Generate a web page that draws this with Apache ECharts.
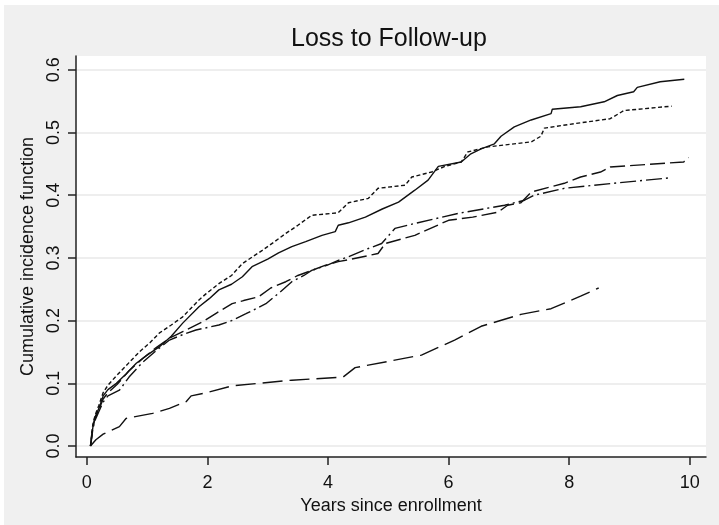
<!DOCTYPE html>
<html>
<head>
<meta charset="utf-8">
<script src="https://cdn.jsdelivr.net/npm/echarts@6/dist/echarts.min.js"></script>
<style>html,body{margin:0;padding:0;background:#fff}#c{width:719px;height:525px}</style>
</head>
<body>
<div id="c"></div>
<script>
const titleText = 'Loss to Follow-up';
const xName = 'Years since enrollment';
const yName = 'Cumulative incidence function';
const xTicks = [0, 2, 4, 6, 8, 10];
const yTicks = [0, 0.1, 0.2, 0.3, 0.4, 0.5, 0.6];

// [years, cumulative incidence]
const solidCurve = [[0.06,0],[0.08,0.015],[0.10,0.03],[0.13,0.045],[0.20,0.06],[0.27,0.08],[0.35,0.09],[0.49,0.10],[0.65,0.115],[0.82,0.132],[1.0,0.145],[1.2,0.158],[1.4,0.175],[1.59,0.196],[1.86,0.222],[2.03,0.235],[2.19,0.249],[2.4,0.258],[2.58,0.270],[2.74,0.286],[3.0,0.298],[3.18,0.308],[3.4,0.318],[3.63,0.326],[3.9,0.336],[4.12,0.342],[4.17,0.352],[4.34,0.356],[4.62,0.365],[4.9,0.378],[5.17,0.389],[5.44,0.408],[5.66,0.424],[5.83,0.446],[6.21,0.453],[6.37,0.466],[6.54,0.474],[6.76,0.482],[6.87,0.494],[7.09,0.509],[7.37,0.520],[7.70,0.530],[7.72,0.537],[8.19,0.541],[8.58,0.549],[8.80,0.559],[9.07,0.565],[9.13,0.572],[9.51,0.581],[9.91,0.585]];
const dottedCurve = [[0.06,0],[0.08,0.02],[0.10,0.035],[0.14,0.05],[0.20,0.065],[0.27,0.085],[0.35,0.097],[0.49,0.112],[0.7,0.133],[0.87,0.150],[1.05,0.165],[1.2,0.180],[1.4,0.193],[1.59,0.206],[1.86,0.233],[1.98,0.243],[2.19,0.259],[2.4,0.272],[2.58,0.291],[2.91,0.312],[3.1,0.325],[3.30,0.339],[3.5,0.352],[3.73,0.368],[4.17,0.372],[4.34,0.388],[4.67,0.395],[4.83,0.411],[5.28,0.416],[5.39,0.429],[5.72,0.437],[5.94,0.446],[6.21,0.453],[6.32,0.469],[6.65,0.477],[7.37,0.485],[7.53,0.494],[7.59,0.507],[8.08,0.514],[8.68,0.522],[8.91,0.535],[9.70,0.542]];
const dashCurve = [[0.06,0],[0.08,0.015],[0.10,0.03],[0.14,0.045],[0.20,0.058],[0.27,0.075],[0.35,0.085],[0.5,0.098],[0.7,0.12],[0.93,0.140],[1.15,0.157],[1.37,0.172],[1.6,0.183],[1.92,0.198],[2.15,0.212],[2.41,0.227],[2.6,0.232],[2.85,0.238],[3.05,0.252],[3.30,0.262],[3.5,0.272],[3.73,0.280],[3.95,0.288],[4.17,0.294],[4.34,0.297],[4.83,0.307],[4.95,0.323],[5.44,0.336],[6.0,0.360],[6.4,0.365],[6.82,0.373],[6.98,0.384],[7.20,0.388],[7.37,0.405],[7.92,0.419],[8.19,0.429],[8.52,0.437],[8.68,0.445],[9.90,0.453],[9.98,0.460]];
const dashDotCurve = [[0.06,0],[0.08,0.012],[0.10,0.028],[0.14,0.042],[0.20,0.055],[0.27,0.07],[0.35,0.08],[0.54,0.089],[0.7,0.11],[0.93,0.134],[1.15,0.152],[1.37,0.169],[1.6,0.178],[1.81,0.185],[2.19,0.193],[2.4,0.200],[2.64,0.211],[2.97,0.227],[3.2,0.245],[3.40,0.262],[3.6,0.272],[3.73,0.280],[4.0,0.289],[4.17,0.296],[4.34,0.302],[4.67,0.315],[4.89,0.323],[5.11,0.347],[5.44,0.355],[6.16,0.371],[6.93,0.384],[7.26,0.392],[7.42,0.400],[7.92,0.411],[8.74,0.419],[9.70,0.428]];
const longDashCurve = [[0.06,0],[0.15,0.01],[0.27,0.019],[0.54,0.031],[0.65,0.044],[1.09,0.052],[1.37,0.060],[1.65,0.071],[1.73,0.080],[1.98,0.085],[2.41,0.096],[3.40,0.105],[4.25,0.110],[4.45,0.125],[5.55,0.145],[6.10,0.169],[6.54,0.191],[7.20,0.210],[7.70,0.219],[8.19,0.239],[8.49,0.252]];

const FONT = '"Liberation Sans", Arial, Helvetica, sans-serif';
const INK = '#111';

function line(data, dash) {
  return {
    type: 'line', data: data, showSymbol: false, symbol: 'none',
    silent: true, animation: false, clip: true,
    lineStyle: { color: INK, width: 1.4, type: dash }
  };
}

const chart = echarts.init(document.getElementById('c'), null, { renderer: 'canvas' });
chart.setOption({
  backgroundColor: '#ffffff',
  animation: false,
  graphic: [{
    type: 'rect', z: -10, silent: true,
    shape: { x: 4, y: 5, width: 719, height: 525 },
    style: { fill: '#f0f0f0' }
  }],
  title: {
    text: titleText, left: 291, top: 27, padding: 0,
    textStyle: { fontFamily: FONT, fontSize: 25, fontWeight: 'normal', color: INK }
  },
  grid: {
    left: 76, right: 13, top: 56, bottom: 68,
    show: true, backgroundColor: '#ffffff', borderWidth: 0, containLabel: false
  },
  xAxis: {
    type: 'value', min: -0.18, max: 10.27,
    name: xName, nameLocation: 'middle', nameGap: 31,
    nameTextStyle: { fontFamily: FONT, fontSize: 18, color: INK },
    axisLine: { show: true, onZero: false, lineStyle: { color: '#222', width: 1.5 } },
    axisTick: { show: true, length: 8, customValues: xTicks, lineStyle: { color: '#222', width: 1.5 } },
    axisLabel: { customValues: xTicks, margin: 17, fontFamily: FONT, fontSize: 18, color: INK },
    splitLine: { show: false }
  },
  yAxis: {
    type: 'value', min: -0.0175, max: 0.622,
    name: yName, nameLocation: 'middle', nameGap: 26,
    nameTextStyle: { fontFamily: FONT, fontSize: 18, color: INK },
    axisLine: { show: true, onZero: false, lineStyle: { color: '#222', width: 1.5 } },
    axisTick: { show: true, length: 8, customValues: yTicks, lineStyle: { color: '#222', width: 1.5 } },
    axisLabel: { customValues: yTicks, rotate: 90, margin: 13, fontFamily: FONT, fontSize: 18, color: INK,
      formatter: v => v.toFixed(1) },
    splitLine: { show: true, lineStyle: { color: '#e8e8e8', width: 1.5 } }
  },
  series: [
    line(solidCurve, 'solid'),
    line(dottedCurve, [4, 2.5]),
    line(dashCurve, [15, 5]),
    line(dashDotCurve, [16, 4, 2, 4]),
    line(longDashCurve, [20, 7])
  ]
});
</script>
</body>
</html>
